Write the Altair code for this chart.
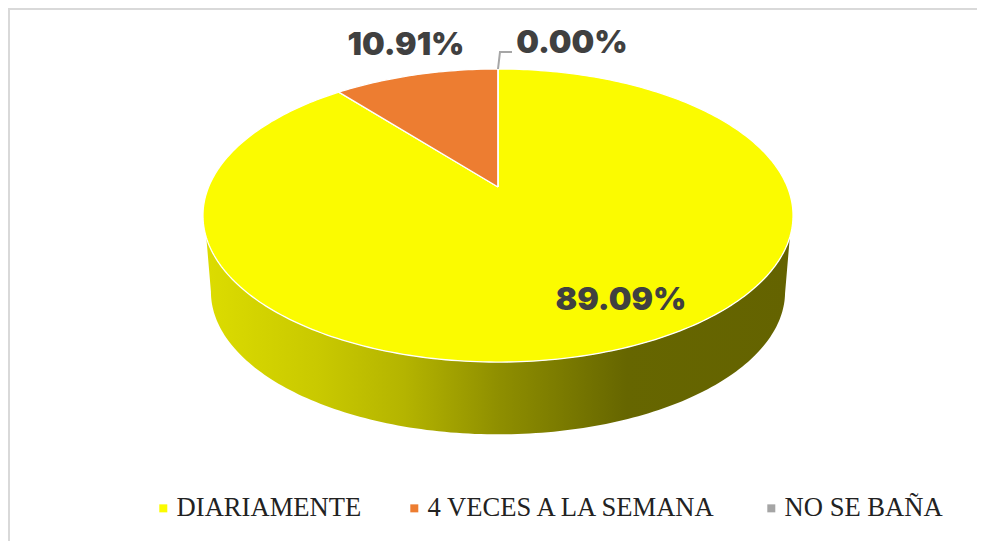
import math
import altair as alt
import pandas as pd

categories = ["DIARIAMENTE", "4 VECES A LA SEMANA", "NO SE BAÑA"]
shares = [89.09, 10.91, 0.00]
colors = ["#FBFB00", "#ED7D31", "#A5A5A5"]

# page-pixel layout constants (geometry of the tilted disc)
W, H = 969, 533
CX, TOP_APEX_Y, BOTTOM_APEX_Y = 498, 187, 264
P, Q, K, BOTTOM_SCALE = 141, 289.4, 0.1946, 0.973
WALL_TOP_DEG, WALL_BOTTOM_DEG = 109.4, 101.2
GRAD_STOPS = [(0, "#DCDC00"), (0.2, "#C8C800"), (0.34, "#B4B400"), (0.5, "#8F8F00"),
              (0.72, "#666600"), (1, "#646300")]
LABEL_POS = [(621, 300), (406, 45), (572, 43)]


def disc(deg, apex_y, s=1.0):
    t = math.radians(deg)
    u, v = math.sin(t), math.cos(t)
    d = 1 + K * v
    return CX + s * Q * u / d, apex_y - s * P * v / d


# slices from the shares
rows = []
start = 0.0
for cat, sh in zip(categories, shares):
    sweep = 360 * sh / 100
    n = max(1, int(sweep))
    rows.append({"cat": cat, "i": 0, "x": CX, "y": TOP_APEX_Y})
    for j in range(n + 1):
        x, y = disc(start + sweep * j / n, TOP_APEX_Y)
        rows.append({"cat": cat, "i": j + 1, "x": x, "y": y})
    rows.append({"cat": cat, "i": n + 2, "x": CX, "y": TOP_APEX_Y})
    start += sweep
slices = pd.DataFrame(rows)

# side wall: front part of the upper rim, then back along the lower rim
wall = []
i = 0
for d in range(int(WALL_TOP_DEG * 10), int((360 - WALL_TOP_DEG) * 10) + 1, 10):
    x, y = disc(d / 10, TOP_APEX_Y)
    wall.append({"i": i, "x": x, "y": y}); i += 1
for d in range(int((360 - WALL_BOTTOM_DEG) * 10), int(WALL_BOTTOM_DEG * 10) - 1, -10):
    x, y = disc(d / 10, BOTTOM_APEX_Y, BOTTOM_SCALE)
    wall.append({"i": i, "x": x, "y": y}); i += 1
wall.append(dict(wall[0], i=i))
wall = pd.DataFrame(wall)

xs = alt.Scale(domain=[8, 8 + W], range=[0, W])
ys = alt.Scale(domain=[8, 8 + H], range=[0, H])
X = alt.X("x:Q", scale=xs, axis=None)
Y = alt.Y("y:Q", scale=ys, axis=None)

wall_layer = alt.Chart(wall).mark_line(
    strokeWidth=0,
    fill={"gradient": "linear", "x1": 0, "x2": 1, "y1": 0, "y2": 0,
          "stops": [{"offset": o, "color": c} for o, c in GRAD_STOPS]},
).encode(x=X, y=Y, order=alt.Order("i:Q"))

slice_layer = alt.Chart(slices).mark_line(stroke="#FFFFFF", strokeWidth=1.3).encode(
    x=X, y=Y, order=alt.Order("i:Q"),
    fill=alt.Fill(
        "cat:N",
        scale=alt.Scale(domain=categories, range=colors),
        legend=alt.Legend(
            title=None, orient="none", direction="horizontal", columns=3,
            legendX=142, legendY=487, symbolType="square", symbolSize=64,
            symbolStrokeWidth=0, labelFont="Liberation Serif", labelFontSize=26.6,
            labelColor="#222222", labelOffset=0, columnPadding=39, labelLimit=400,
        ),
    ),
)

leader = pd.DataFrame({"x": [498, 500, 512], "y": [69, 52, 52], "i": [0, 1, 2]})
leader_layer = alt.Chart(leader).mark_line(color="#A6A6A6", strokeWidth=2).encode(
    x=X, y=Y, order=alt.Order("i:Q"))

labels = pd.DataFrame({
    "x": [p[0] for p in LABEL_POS], "y": [p[1] for p in LABEL_POS],
    "t": [f"{s:.2f}%" for s in shares],
})
label_layer = alt.Chart(labels).mark_text(
    font="Inter", fontWeight=900, fontSize=32, color="#404040", baseline="middle", align="center",
).encode(x=X, y=Y, text="t:N")

border_top = alt.Chart(pd.DataFrame({"y": [9]})).mark_rule(color="#D9D9D9", strokeWidth=2).encode(
    y=alt.Y("y:Q", scale=ys, axis=None), x=alt.value(0), x2=alt.value(W))
border_left = alt.Chart(pd.DataFrame({"x": [9]})).mark_rule(color="#D9D9D9", strokeWidth=2).encode(
    x=alt.X("x:Q", scale=xs, axis=None), y=alt.value(0), y2=alt.value(H))

chart = alt.layer(border_top, border_left, wall_layer, slice_layer, leader_layer, label_layer).properties(
    width=W, height=H, padding=0, autosize=alt.AutoSizeParams(type="none"), background="#FFFFFF",
).configure_view(stroke=None)

chart.save("out.html", embed_options={"renderer": "svg", "actions": False})
